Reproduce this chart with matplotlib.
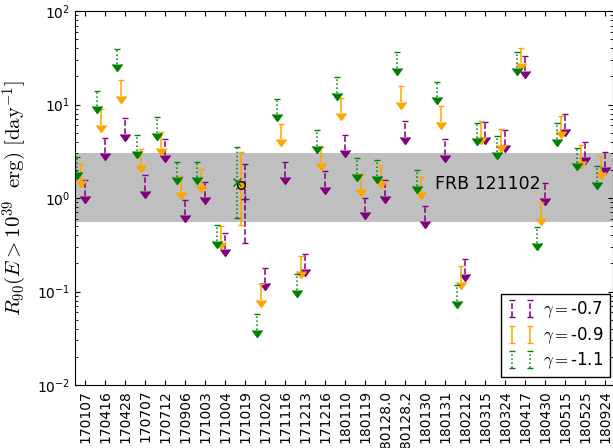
import numpy as np
import matplotlib
matplotlib.use('Agg')
import matplotlib.pyplot as plt

plt.rcParams['mathtext.fontset'] = 'cm'

# Даты вспышек (подписи по оси X)
DATES = ['170107', '170416', '170428', '170707', '170712', '170906', '171003',
         '171004', '171019', '171020', '171116', '171213', '171216', '180110',
         '180119', '180128.0', '180128.2', '180130', '180131', '180212',
         '180315', '180324', '180417', '180430', '180515', '180525', '180924']

nan = np.nan

# Верхние пределы R90 (верхняя граница и конец стрелки) для трёх gamma
UP_07 = [1.55, 4.35, 7.12, 1.75, 4.25, 0.95, 1.49, 0.42, nan, 0.18, 2.44, 0.25,
         1.93, 4.75, 1.01, 1.55, 6.61, 0.82, 4.25, 0.224, 6.55, 5.39, 33.3,
         1.46, 7.97, 3.94, 3.13]
LO_07 = [1.06, 3.01, 4.84, 1.20, 2.88, 0.66, 1.03, 0.285, nan, 0.124, 1.67,
         0.173, 1.32, 3.26, 0.70, 1.06, 4.53, 0.57, 2.90, 0.154, 4.53, 3.69,
         22.8, 1.0, 5.43, 2.72, 2.16]
UP_09 = [2.29, 8.89, 18.2, 3.32, 5.12, 1.72, 2.03, 0.50, nan, 0.119, 6.23, 0.24,
         3.51, 11.8, 1.81, 2.24, 15.9, 1.69, 9.64, 0.187, 6.71, 5.43, 40.5,
         0.91, 7.59, 3.66, 2.79]
LO_09 = [1.56, 6.04, 12.3, 2.25, 3.45, 1.15, 1.38, 0.34, nan, 0.081, 4.25,
         0.167, 2.39, 8.05, 1.24, 1.52, 10.7, 1.15, 6.50, 0.126, 4.53, 3.69,
         27.6, 0.61, 5.21, 2.49, 1.88]
UP_11 = [2.77, 14.0, 39.5, 4.68, 7.30, 2.44, 2.44, 0.52, nan, 0.057, 11.4,
         0.154, 5.30, 19.5, 2.66, 2.57, 36.2, 1.99, 17.5, 0.117, 6.29, 4.60,
         36.2, 0.49, 6.29, 3.45, 2.22]
LO_11 = [1.91, 9.64, 26.9, 3.18, 4.96, 1.67, 1.67, 0.35, nan, 0.039, 7.86,
         0.105, 3.60, 13.2, 1.81, 1.73, 24.4, 1.35, 11.9, 0.080, 4.35, 3.13,
         24.6, 0.33, 4.25, 2.35, 1.49]

# Детекция 171019: значение, нижняя и верхняя граница
DET_IDX = 8
DET_07 = (0.98, 0.333, 2.29)
DET_09 = (1.38, 0.514, 3.13)
DET_11 = (1.49, 0.607, 3.51)

# Диапазон для FRB 121102
FRB_LO, FRB_HI = 0.56, 3.05

SERIES = [
    (UP_07, LO_07, DET_07, 0.0, 'purple', '--', '+', r'$\gamma=$-0.7'),
    (UP_09, LO_09, DET_09, -0.2, 'orange', '-', 'o', r'$\gamma=$-0.9'),
    (UP_11, LO_11, DET_11, -0.4, 'green', ':', 'x', r'$\gamma=$-1.1'),
]

EB_STYLE = dict(fmt='none', elinewidth=1.1, capsize=2.5, capthick=1.0)


def draw_limits(ax, x, upper, lower, color, ls):
    upper = np.asarray(upper)
    lower = np.asarray(lower)
    eb = ax.errorbar(x, upper, yerr=[upper - lower, np.zeros_like(upper)],
                     uplims=True, ecolor=color, **EB_STYLE)
    eb[2][0].set_linestyle(ls)
    # стрелки пределов залиты цветом серии и чуть крупнее засечек
    for line in eb[1]:
        if line.get_marker() != '_':
            line.set_markersize(7)
            line.set_markerfacecolor(color)
    return eb


def draw_detection(ax, x, det, color, ls, marker):
    val, lo, hi = det
    kw = dict(mfc=color, mec='black', mew=1.0) if marker == 'o' else dict(color=color)
    eb = ax.errorbar([x], [val], yerr=[[val - lo], [hi - val]], fmt=marker,
                     ms=5.5, ecolor=color, elinewidth=1.1, capsize=2.5,
                     capthick=1.0, zorder=4, **kw)
    eb[2][0].set_linestyle(ls)


def draw_legend_proxy(ax, color, ls, label):
    # обычная планка ошибок за пределами оси - только для легенды
    eb = ax.errorbar([-10], [1.0], yerr=[[0.5], [1.0]], ecolor=color,
                     label=label, **EB_STYLE)
    eb[2][0].set_linestyle(ls)


def plot():
    fig = plt.figure(figsize=(6.13, 4.48), dpi=100)
    ax = fig.add_axes([0.1223, 0.1406, 0.8777, 0.8348])

    ax.axhspan(FRB_LO, FRB_HI, color='#bfbfbf', zorder=0, lw=0)

    pos = np.arange(len(DATES))
    for upper, lower, det, shift, color, ls, marker, label in SERIES:
        draw_limits(ax, pos + shift, upper, lower, color, ls)
        draw_detection(ax, DET_IDX + shift, det, color, ls, marker)
        draw_legend_proxy(ax, color, ls, label)

    ax.text(17.5, 1.41, 'FRB 121102', fontsize=12.5, va='center', ha='left')

    ax.set_yscale('log')
    ax.set_ylim(1e-2, 1e2)
    ax.set_xlim(-0.5, 26.4)
    ax.set_xticks(pos)
    ax.set_xticklabels(DATES, rotation=90, fontsize=10)
    ax.tick_params(axis='y', labelsize=10)
    ax.tick_params(which='both', direction='in', top=True, right=True)
    ax.set_ylabel(r'$R_{90}(E>10^{39}\ \ \mathrm{erg})\ [\mathrm{day}^{-1}]$',
                  fontsize=15, labelpad=6)

    leg = ax.legend(loc='lower right', bbox_to_anchor=(0.994, 0.021),
                    borderaxespad=0, numpoints=2, fontsize=12, fancybox=False,
                    framealpha=1, edgecolor='black', handletextpad=0.5,
                    handlelength=1.7, labelspacing=0.3, borderpad=0.35)
    leg.get_frame().set_linewidth(1.0)

    fig.savefig('out.png', dpi=100)


def main():
    plot()


if __name__ == '__main__':
    main()
